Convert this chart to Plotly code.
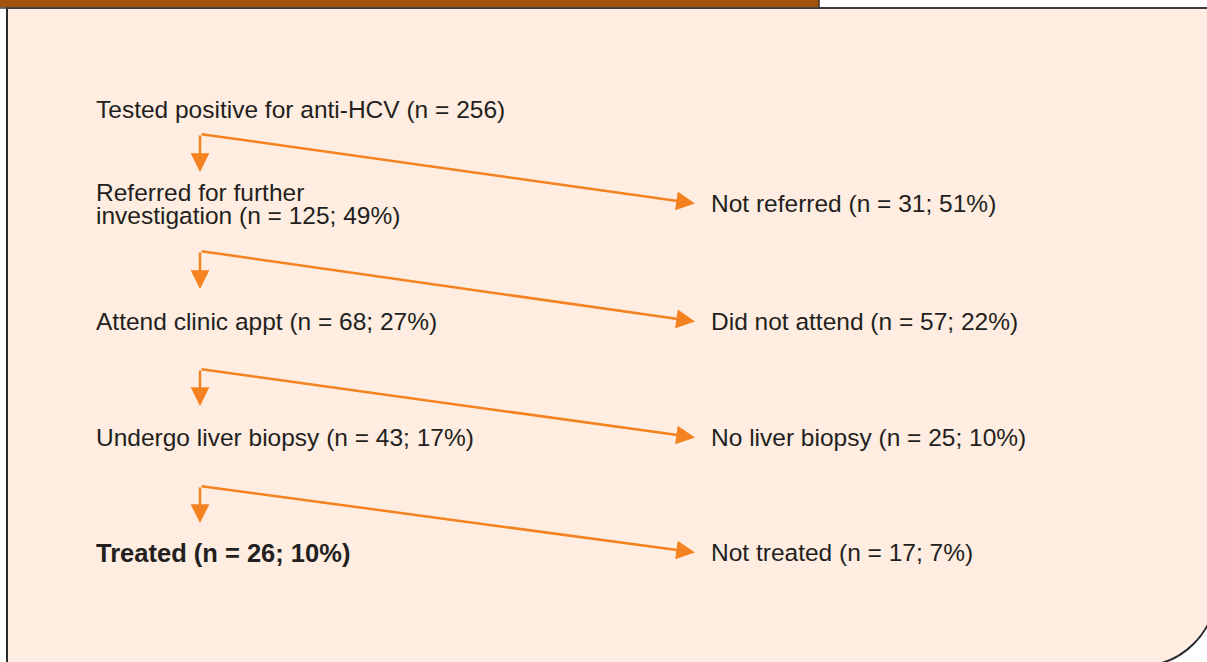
import plotly.graph_objects as go

# ---- data ----
left_labels = [
    "Tested positive for anti-HCV (n = 256)",
    "Referred for further\ninvestigation (n = 125; 49%)",
    "Attend clinic appt (n = 68; 27%)",
    "Undergo liver biopsy (n = 43; 17%)",
    "Treated (n = 26; 10%)",
]
left_bold = [False, False, False, False, True]
right_labels = [
    "Not referred (n = 31; 51%)",
    "Did not attend (n = 57; 22%)",
    "No liver biopsy (n = 25; 10%)",
    "Not treated (n = 17; 7%)",
]

# ---- layout constants ----
W, H = 1207, 662
ROW_Y = [109.5, 203.5, 321.5, 437.5, 552.5]
LEFT_X = 94
RIGHT_X = 709
PIVOT_X = 200
PIVOT_Y = [134, 251, 369, 486]
DOWN_TIP = [172, 289, 406, 523]
RIGHT_TIP_X = 695
LINE_GAP = 23

TEXT_COLOR = "#231F20"
ORANGE = "#F58220"
FONT = "Liberation Sans, Arial, sans-serif"
FSIZE = 24.5
FSIZE_BOLD = 25.5

fig = go.Figure()
fig.add_trace(go.Scatter(x=[0, W], y=[0, H], mode="markers",
                         marker=dict(opacity=0), hoverinfo="skip", showlegend=False))

shapes = []
# panel with rounded bottom-right corner
k = 0.5523 * 76
panel = (f"M 7,8 L 1216,8 L 1216,590 C 1216,{590 + k} {1140 + k},666 1140,666 "
         f"L 7,666 Z")
shapes.append(dict(type="path", path=panel, fillcolor="#FEEDE0",
                   line=dict(color="#2B2B2B", width=2), layer="below"))
# brown header bar
shapes.append(dict(type="rect", x0=0, x1=819, y0=-2, y1=7.5, fillcolor="#A1530B",
                   line=dict(width=0), layer="below"))
shapes.append(dict(type="line", x0=819, x1=819, y0=0, y1=8,
                   line=dict(color="#333333", width=1.5), layer="below"))
shapes.append(dict(type="line", x0=0, x1=W, y0=8, y1=8,
                   line=dict(color="#444444", width=1.5), layer="below"))

annotations = []
for i, lab in enumerate(left_labels):
    lines = lab.split("\n")
    n = len(lines)
    for j, ln in enumerate(lines):
        y = ROW_Y[i] + (j - (n - 1) / 2) * LINE_GAP
        txt = f"<b>{ln}</b>" if left_bold[i] else ln
        annotations.append(dict(x=LEFT_X, y=y, xref="x", yref="y", text=txt,
                                showarrow=False, xanchor="left", yanchor="middle",
                                font=dict(family=FONT,
                                          size=FSIZE_BOLD if left_bold[i] else FSIZE,
                                          color=TEXT_COLOR)))
for i, lab in enumerate(right_labels):
    annotations.append(dict(x=RIGHT_X, y=ROW_Y[i + 1], xref="x", yref="y", text=lab,
                            showarrow=False, xanchor="left", yanchor="middle",
                            font=dict(family=FONT, size=FSIZE, color=TEXT_COLOR)))

for i in range(len(right_labels)):
    # down arrow
    annotations.append(dict(x=PIVOT_X, y=DOWN_TIP[i], ax=PIVOT_X, ay=PIVOT_Y[i],
                            xref="x", yref="y", axref="x", ayref="y", text="",
                            showarrow=True, arrowhead=2, arrowsize=1.5,
                            arrowwidth=2.5, arrowcolor=ORANGE, standoff=0))
    # diagonal arrow
    annotations.append(dict(x=RIGHT_TIP_X, y=ROW_Y[i + 1], ax=PIVOT_X, ay=PIVOT_Y[i],
                            xref="x", yref="y", axref="x", ayref="y", text="",
                            showarrow=True, arrowhead=2, arrowsize=1.5,
                            arrowwidth=2.5, arrowcolor=ORANGE, standoff=0))

fig.update_layout(
    width=W, height=H, margin=dict(l=0, r=0, t=0, b=0),
    paper_bgcolor="white", plot_bgcolor="white",
    xaxis=dict(range=[0, W], visible=False, fixedrange=True),
    yaxis=dict(range=[H, 0], visible=False, fixedrange=True),
    shapes=shapes, annotations=annotations, showlegend=False,
)
fig.write_html("out.html", config={"displayModeBar": False},
               post_script="document.body.style.margin='0';document.body.style.overflow='hidden';")
